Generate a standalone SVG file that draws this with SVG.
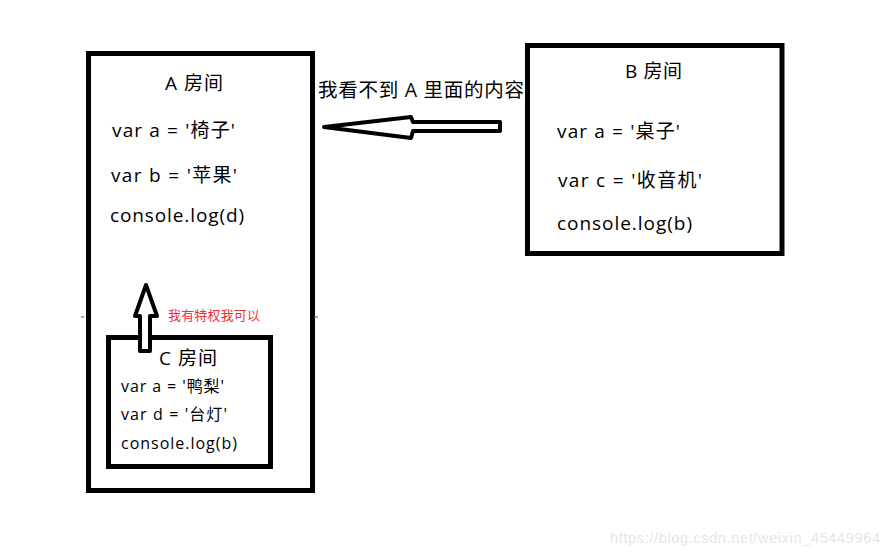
<svg xmlns="http://www.w3.org/2000/svg" width="892" height="557" viewBox="0 0 892 557">
<style>
.box{fill:none;stroke:#000;stroke-width:5}
.t{font-family:"Open Sans","Noto Sans CJK SC",sans-serif;fill:#000}
.l{font-size:19px}
.s{font-size:16px}
.arr{fill:#fff;stroke:#000;stroke-width:4;stroke-linejoin:round}
</style>
<rect width="892" height="557" fill="#fff"/>
<g id="roomA">
<rect class="box" x="88.5" y="53.5" width="224" height="437"/>
<text class="t l" x="165" y="90" textLength="58" lengthAdjust="spacing">A 房间</text>
<text class="t l" x="112" y="137" textLength="123" lengthAdjust="spacing">var a = '椅子'</text>
<text class="t l" x="111" y="182" textLength="126" lengthAdjust="spacing">var b = '苹果'</text>
<text class="t l" x="110" y="222" textLength="134" lengthAdjust="spacing">console.log(d)</text>
<line x1="81" y1="317" x2="84" y2="317" stroke="#555" stroke-width="1"/>
<line x1="314" y1="317" x2="318" y2="317" stroke="#555" stroke-width="1"/>
</g>
<g id="roomB">
<rect class="box" x="527.5" y="45.5" width="254.5" height="208"/>
<text class="t l" x="625" y="78" textLength="57" lengthAdjust="spacing">B 房间</text>
<text class="t l" x="557" y="138" textLength="123" lengthAdjust="spacing">var a = '桌子'</text>
<text class="t l" x="558" y="187" textLength="144" lengthAdjust="spacing">var c = '收音机'</text>
<text class="t l" x="557" y="230" textLength="135" lengthAdjust="spacing">console.log(b)</text>
</g>
<g id="roomC">
<rect class="box" x="108.5" y="337.5" width="162" height="129"/>
<text class="t l" x="159" y="365" textLength="58" lengthAdjust="spacing">C 房间</text>
<text class="t s" x="121" y="392" textLength="103" lengthAdjust="spacing">var a = '鸭梨'</text>
<text class="t s" x="121" y="420" textLength="106" lengthAdjust="spacing">var d = '台灯'</text>
<text class="t s" x="121" y="449" textLength="116" lengthAdjust="spacing">console.log(b)</text>
</g>
<g id="connectors">
<path class="arr" d="M324,127 L411,117 L413,122 L500,122 L500,131 L413,131 L411,138 Z"/>
<path class="arr" d="M146,285 L157,316 L150,316 L150,351 L140,351 L140,316 L135,316 Z"/>
<text class="t" x="318" y="97" font-size="19.5" textLength="206" lengthAdjust="spacing">我看不到 A 里面的内容</text>
<text class="t" x="168" y="320" font-size="13" style="fill:#f0303a" textLength="92" lengthAdjust="spacing">我有特权我可以</text>
</g>
<text x="610" y="543" font-family="Liberation Sans, Arial, sans-serif" font-size="14.5" fill="#e6e6e6" textLength="270" lengthAdjust="spacing">https://blog.csdn.net/weixin_45449964</text>
</svg>
